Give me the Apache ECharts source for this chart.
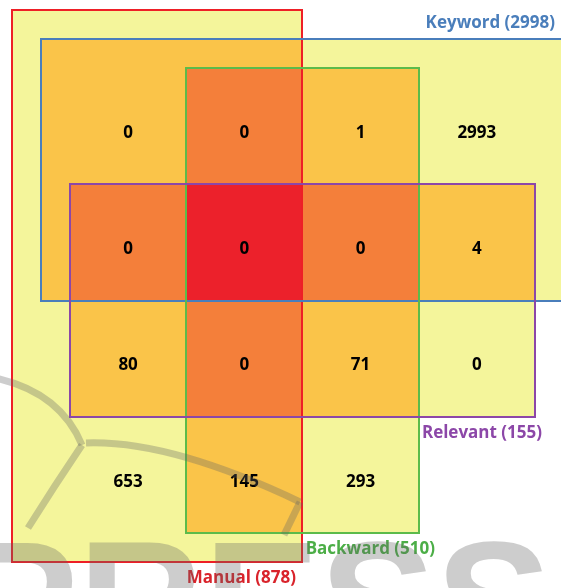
<!DOCTYPE html>
<html>
<head>
<meta charset="utf-8">
<script src="https://cdn.jsdelivr.net/npm/echarts@6/dist/echarts.min.js"></script>
<style>
html, body { margin: 0; padding: 0; background: #fff; }
#chart { width: 561px; height: 588px; }
</style>
</head>
<body>
<div id="chart"></div>
<script>
// the four sets, extent in cell units (columns / rows of the grid)
const setNames = ['Manual', 'Keyword', 'Backward', 'Relevant']
const setTotals = [878, 2998, 510, 155]
const setX = [[-0.5, 2], [-0.25, 4.5], [1, 3], [0, 4]]
const setY = [[-0.5, 4.25], [-0.25, 2], [0, 4], [1, 3]]

// counts for each cell of the grid
const cellCol = [0, 1, 2, 3, 0, 1, 2, 3, 0, 1, 2, 3, 0, 1, 2]
const cellRow = [0, 0, 0, 0, 1, 1, 1, 1, 2, 2, 2, 2, 3, 3, 3]
const cellValue = [0, 0, 1, 2993, 0, 0, 0, 4, 80, 0, 71, 0, 653, 145, 293]

const lineColors = ['#ee1f26', '#4a7ebb', '#5cbb4a', '#8c47a8']
const textColors = ['#d9232b', '#4a7ebb', '#4cae47', '#8c47a8']
// fill by how many sets overlap there
const overlapColors = ['#ffffff', '#f4f59b', '#fac449', '#f47f3a', '#ec212b']

// label anchor relative to the right corner of each set box
const labelSide = ['bottom', 'top', 'bottom', 'bottom']
const labelDx = [-6, -6, 16, 7]

const FONT = '"Open Sans", "Liberation Sans", sans-serif'

// split the plane on every set edge and count the overlaps
const xb = [...new Set(setX.flat())].sort((a, b) => a - b)
const yb = [...new Set(setY.flat())].sort((a, b) => a - b)
const regions = []
for (let i = 0; i < xb.length - 1; i++) {
  for (let j = 0; j < yb.length - 1; j++) {
    const cx = (xb[i] + xb[i + 1]) / 2
    const cy = (yb[j] + yb[j + 1]) / 2
    let n = 0
    setX.forEach((sx, k) => {
      if (cx > sx[0] && cx < sx[1] && cy > setY[k][0] && cy < setY[k][1]) n++
    })
    if (n > 0) regions.push([xb[i], xb[i + 1], yb[j], yb[j + 1], n])
  }
}

const chart = echarts.init(document.getElementById('chart'))
const W = 561
const wm = 'rgba(98,98,98,0.32)'

chart.setOption({
  animation: false,
  grid: { left: 0, right: 0, top: 0, bottom: 0 },
  xAxis: { type: 'value', min: -0.602, max: 4.224, show: false },
  yAxis: { type: 'value', min: -0.585, max: 4.473, inverse: true, show: false },
  series: [
    {
      type: 'custom',
      silent: true,
      data: regions,
      renderItem: (params, api) => {
        const a = api.coord([api.value(0), api.value(2)])
        const b = api.coord([api.value(1), api.value(3)])
        const x0 = Math.round(a[0]), y0 = Math.round(a[1])
        return {
          type: 'rect',
          shape: { x: x0, y: y0, width: Math.round(b[0]) - x0, height: Math.round(b[1]) - y0 },
          style: { fill: overlapColors[api.value(4)] }
        }
      }
    },
    {
      type: 'custom',
      silent: true,
      data: cellValue.map((v, i) => [cellCol[i] + 0.5, cellRow[i] + 0.5, v]),
      renderItem: (params, api) => {
        const p = api.coord([api.value(0), api.value(1)])
        return {
          type: 'text',
          x: p[0], y: p[1] + 7,
          style: {
            text: String(api.value(2)),
            align: 'center', verticalAlign: 'middle',
            font: 'bold 17px ' + FONT, fill: '#000'
          }
        }
      }
    },
    {
      type: 'custom',
      silent: true,
      z: 5,
      data: setNames.map((n, i) => [setX[i][0], setX[i][1], setY[i][0], setY[i][1], i]),
      renderItem: (params, api) => {
        const k = api.value(4)
        const a = api.coord([api.value(0), api.value(2)])
        const b = api.coord([api.value(1), api.value(3)])
        const x0 = Math.round(a[0]), y0 = Math.round(a[1])
        const x1 = Math.round(b[0]), y1 = Math.round(b[1])
        const top = labelSide[k] === 'top'
        return {
          type: 'group',
          children: [
            {
              type: 'rect',
              shape: { x: x0, y: y0, width: x1 - x0, height: y1 - y0 },
              style: { fill: 'none', stroke: lineColors[k], lineWidth: 2 }
            },
            {
              type: 'text',
              x: Math.min(x1, W) + labelDx[k],
              y: top ? y0 - 16 : y1 + 16,
              style: {
                text: setNames[k] + ' (' + setTotals[k] + ')',
                align: 'right', verticalAlign: 'middle',
                font: 'bold 17px ' + FONT, fill: textColors[k]
              }
            }
          ]
        }
      }
    }
  ],
  // faint publisher watermark across the bottom
  graphic: [
    { type: 'bezierCurve', z: 100, silent: true,
      shape: { x1: -5, y1: 378, cpx1: 60, cpy1: 392, x2: 82, y2: 445 },
      style: { stroke: wm, lineWidth: 7, fill: null } },
    { type: 'bezierCurve', z: 100, silent: true,
      shape: { x1: 82, y1: 445, cpx1: 55, cpy1: 485, x2: 28, y2: 528 },
      style: { stroke: wm, lineWidth: 7, fill: null } },
    { type: 'bezierCurve', z: 100, silent: true,
      shape: { x1: 86, y1: 443, cpx1: 170, cpy1: 440, x2: 300, y2: 502 },
      style: { stroke: wm, lineWidth: 7, fill: null } },
    { type: 'line', z: 100, silent: true,
      shape: { x1: 300, y1: 502, x2: 284, y2: 535 },
      style: { stroke: wm, lineWidth: 7 } },
    { type: 'text', z: 100, silent: true, x: -38, y: 528,
      style: { text: 'PRESS', font: 'bold 174px "Liberation Sans", sans-serif',
               fill: wm, verticalAlign: 'top' } }
  ]
})
</script>
</body>
</html>
